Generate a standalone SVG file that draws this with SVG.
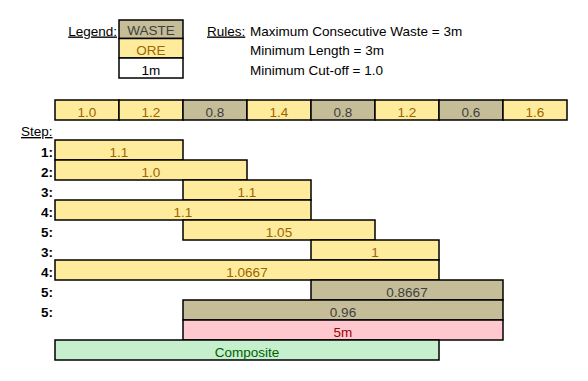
<svg xmlns="http://www.w3.org/2000/svg" width="588" height="381" viewBox="0 0 588 381">
<style>
text{font-family:"Liberation Sans",Arial,sans-serif;font-size:13.5px}
.c{text-anchor:middle}
.ore{fill:#FFEB9C;stroke:#000;stroke-width:1.5}
.ot{fill:#9C6500}
.waste{fill:#C4BD97;stroke:#000;stroke-width:1.5}
.wt{fill:#3F3F3F}
.white{fill:#fff;stroke:#000;stroke-width:1.5}
.bad{fill:#FFC7CE;stroke:#000;stroke-width:1.5}
.bt{fill:#9C0006}
.good{fill:#C6EFCE;stroke:#000;stroke-width:1.5}
.gt{fill:#006100}
.lbl{fill:#000}
.step{font-weight:bold;text-anchor:end;fill:#000}
.u{text-decoration:underline}
</style>
<rect width="588" height="381" fill="#fff"/>
<g id="legend">
<text x="117" y="35.5" text-anchor="end" class="lbl u">Legend:</text>
<rect x="119" y="20" width="64" height="18.5" class="waste"/>
<text x="151" y="35" class="c wt">WASTE</text>
<rect x="119" y="38.5" width="64" height="19.5" class="ore"/>
<text x="151" y="54.5" class="c ot">ORE</text>
<rect x="119" y="58" width="64" height="20" class="white"/>
<text x="151" y="74.5" class="c lbl">1m</text>
</g>
<g id="rules">
<text x="207" y="35.5" class="lbl u">Rules:</text>
<text x="250" y="35.5" class="lbl">Maximum Consecutive Waste = 3m</text>
<text x="250" y="55" class="lbl">Minimum Length = 3m</text>
<text x="250" y="75" class="lbl">Minimum Cut-off = 1.0</text>
</g>
<g id="samples">
<rect x="55" y="100" width="64" height="20" class="ore"/><text x="87" y="116.5" class="c ot">1.0</text>
<rect x="119" y="100" width="64" height="20" class="ore"/><text x="151" y="116.5" class="c ot">1.2</text>
<rect x="183" y="100" width="64" height="20" class="waste"/><text x="215" y="116.5" class="c wt">0.8</text>
<rect x="247" y="100" width="64" height="20" class="ore"/><text x="279" y="116.5" class="c ot">1.4</text>
<rect x="311" y="100" width="64" height="20" class="waste"/><text x="343" y="116.5" class="c wt">0.8</text>
<rect x="375" y="100" width="64" height="20" class="ore"/><text x="407" y="116.5" class="c ot">1.2</text>
<rect x="439" y="100" width="64" height="20" class="waste"/><text x="471" y="116.5" class="c wt">0.6</text>
<rect x="503" y="100" width="64" height="20" class="ore"/><text x="535" y="116.5" class="c ot">1.6</text>
</g>
<g id="step-labels">
<text x="21" y="136" class="lbl u">Step:</text>
<text x="53" y="156.5" class="step">1:</text>
<text x="53" y="176.5" class="step">2:</text>
<text x="53" y="196.5" class="step">3:</text>
<text x="53" y="216.5" class="step">4:</text>
<text x="53" y="236.5" class="step">5:</text>
<text x="53" y="256.5" class="step">3:</text>
<text x="53" y="276.5" class="step">4:</text>
<text x="53" y="296.5" class="step">5:</text>
<text x="53" y="316.5" class="step">5:</text>
</g>
<g id="bar-1"><rect x="55" y="140" width="128" height="20" class="ore"/><text x="119" y="156.5" class="c ot">1.1</text></g>
<g id="bar-2"><rect x="55" y="160" width="192" height="20" class="ore"/><text x="151" y="176.5" class="c ot">1.0</text></g>
<g id="bar-3"><rect x="183" y="180" width="128" height="20" class="ore"/><text x="247" y="196.5" class="c ot">1.1</text></g>
<g id="bar-4"><rect x="55" y="200" width="256" height="20" class="ore"/><text x="183" y="216.5" class="c ot">1.1</text></g>
<g id="bar-5"><rect x="183" y="220" width="192" height="20" class="ore"/><text x="279" y="236.5" class="c ot">1.05</text></g>
<g id="bar-6"><rect x="311" y="240" width="128" height="20" class="ore"/><text x="375" y="256.5" class="c ot">1</text></g>
<g id="bar-7"><rect x="55" y="260" width="384" height="20" class="ore"/><text x="247" y="276.5" class="c ot">1.0667</text></g>
<g id="bar-8"><rect x="311" y="280" width="192" height="20" class="waste"/><text x="407" y="296.5" class="c wt">0.8667</text></g>
<g id="bar-9"><rect x="183" y="300" width="320" height="20" class="waste"/><text x="343" y="316.5" class="c wt">0.96</text></g>
<g id="bar-5m"><rect x="183" y="320" width="320" height="20" class="bad"/><text x="343" y="336.5" class="c bt">5m</text></g>
<g id="composite"><rect x="55" y="340" width="384" height="20" class="good"/><text x="247" y="356.5" class="c gt">Composite</text></g>
<g id="connectors"></g>
</svg>
